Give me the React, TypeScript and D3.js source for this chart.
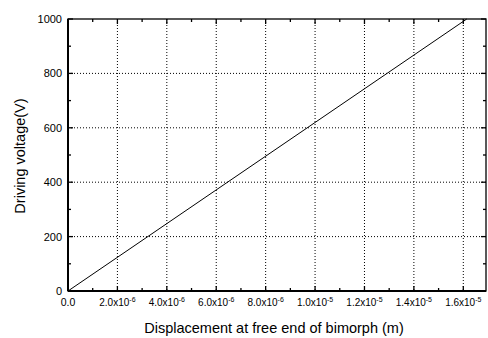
import React from "react";
import * as d3 from "d3";

const xTicks = [2e-6, 4e-6, 6e-6, 8e-6, 1e-5, 1.2e-5, 1.4e-5, 1.6e-5];
const xTickMant = ["2.0", "4.0", "6.0", "8.0", "1.0", "1.2", "1.4", "1.6"];
const xTickExp = ["-6", "-6", "-6", "-6", "-5", "-5", "-5", "-5"];
const xMinor = [1e-6, 3e-6, 5e-6, 7e-6, 9e-6, 1.1e-5, 1.3e-5, 1.5e-5];
const yTicks = [0, 200, 400, 600, 800, 1000];
const yMinor = [100, 300, 500, 700, 900];
const dispX = [0, 1.614e-5];
const voltY = [0, 1000];

export default function App() {
  const W = 488, H = 338;
  const L = 68, R = 486, T = 19, B = 291;
  const x = d3.scaleLinear().domain([0, 1.6e-5 * (R - L) / (463.3 - L)]).range([L, R]);
  const y = d3.scaleLinear().domain([0, 1000]).range([B, T]);
  const line = d3.line<number>().x((d, i) => x(dispX[i])).y((d) => y(d));
  const font = "Arial, 'Liberation Sans', sans-serif";
  return (
    <svg width={W} height={H} style={{ position: "absolute", left: 0, top: 0, background: "#fff" }} fontFamily={font}>
      {/* grid */}
      {xTicks.map((t, i) => (
        <line key={"gx" + i} x1={x(t)} x2={x(t)} y1={T} y2={B} stroke="#000" strokeWidth={1} strokeDasharray="1,2" />
      ))}
      {yTicks.slice(1, -1).map((t, i) => (
        <line key={"gy" + i} x1={L} x2={R} y1={y(t)} y2={y(t)} stroke="#000" strokeWidth={1} strokeDasharray="1,2" />
      ))}
      {/* ticks */}
      {xTicks.map((t, i) => (
        <g key={"xt" + i}>
          <line x1={x(t)} x2={x(t)} y1={B} y2={B - 5} stroke="#000" strokeWidth={1.3} />
          <line x1={x(t)} x2={x(t)} y1={T} y2={T + 5} stroke="#000" strokeWidth={1.3} />
        </g>
      ))}
      {xMinor.map((t, i) => (
        <g key={"xm" + i}>
          <line x1={x(t)} x2={x(t)} y1={B} y2={B - 3} stroke="#000" strokeWidth={1.3} />
          <line x1={x(t)} x2={x(t)} y1={T} y2={T + 3} stroke="#000" strokeWidth={1.3} />
        </g>
      ))}
      {yTicks.map((t, i) => (
        <g key={"yt" + i}>
          <line x1={L} x2={L + 5} y1={y(t)} y2={y(t)} stroke="#000" strokeWidth={1.3} />
          <line x1={R} x2={R - 5} y1={y(t)} y2={y(t)} stroke="#000" strokeWidth={1.3} />
        </g>
      ))}
      {yMinor.map((t, i) => (
        <g key={"ym" + i}>
          <line x1={L} x2={L + 3} y1={y(t)} y2={y(t)} stroke="#000" strokeWidth={1.3} />
          <line x1={R} x2={R - 3} y1={y(t)} y2={y(t)} stroke="#000" strokeWidth={1.3} />
        </g>
      ))}
      {/* frame */}
      <rect x={L} y={T} width={R - L} height={B - T} fill="none" stroke="#000" strokeWidth={1.3} />
      <line x1={L} x2={L} y1={T} y2={B} stroke="#000" strokeWidth={2} />
      <line x1={L} x2={R} y1={B} y2={B} stroke="#000" strokeWidth={2} />
      {/* data */}
      <path d={line(voltY) || ""} fill="none" stroke="#000" strokeWidth={1} />
      {/* y labels */}
      {yTicks.map((t, i) => (
        <text key={"yl" + i} x={L - 6} y={y(t) + 4} fontSize={11} textAnchor="end">{t}</text>
      ))}
      {/* x labels */}
      <text x={x(0)} y={306} fontSize={10.5} textAnchor="middle">0.0</text>
      {xTicks.map((t, i) => (
        <text key={"xl" + i} x={x(t)} y={306} fontSize={10} textAnchor="middle">
          {xTickMant[i]}x10<tspan dy={-4} fontSize={7}>{xTickExp[i]}</tspan>
        </text>
      ))}
      <text x={274} y={333} fontSize={14.5} textAnchor="middle">Displacement at free end of bimorph (m)</text>
      <text transform={`translate(25,156) rotate(-90)`} fontSize={14.5} textAnchor="middle">Driving voltage(V)</text>
    </svg>
  );
}
